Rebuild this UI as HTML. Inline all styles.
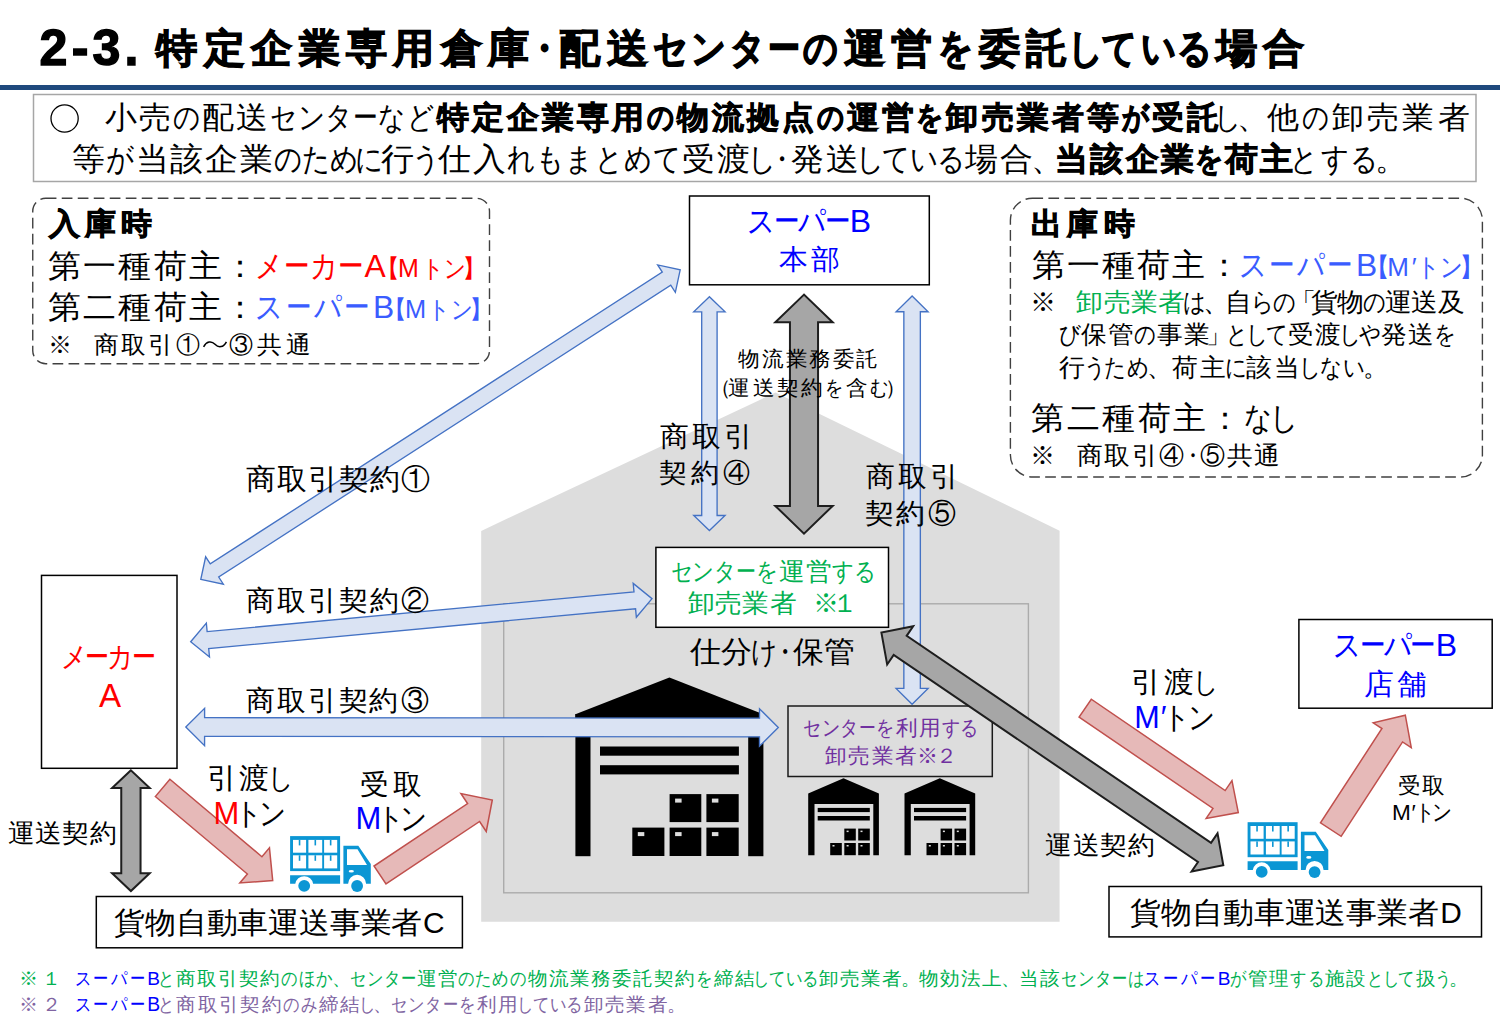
<!DOCTYPE html>
<html lang="ja"><head><meta charset="utf-8"><title>2-3</title>
<style>html,body{margin:0;padding:0;background:#fff;width:1500px;height:1015px;overflow:hidden}
svg{display:block;font-family:"Liberation Sans",sans-serif}</style></head>
<body><svg width="1500" height="1015" viewBox="0 0 1500 1015">
<rect x="0" y="85" width="1500" height="5" fill="#1f497d"/>
<rect x="33.5" y="94.5" width="1442.5" height="87" fill="none" stroke="#a6a6a6" stroke-width="1.5"/>
<rect x="32.75" y="198.3" width="456.75" height="165.4" rx="13" fill="none" stroke="#404040" stroke-width="1.4" stroke-dasharray="10.7 5.3"/>
<rect x="1010.4" y="198.2" width="472" height="278.8" rx="22" fill="none" stroke="#404040" stroke-width="1.4" stroke-dasharray="10.7 5.3"/>
<polygon points="481.2,530.9 775.5,392.5 1059.6,530.8 1059.6,921.8 481.2,921.8" fill="#dddddd" stroke="none" stroke-width="0" stroke-linejoin="miter" />
<rect x="503.7" y="603.8" width="524.7" height="289" fill="none" stroke="#ababab" stroke-width="1.4"/>
<rect x="689.5" y="196" width="239.8" height="88.8" fill="#fff" stroke="#000" stroke-width="1.5"/>
<rect x="41.5" y="575.4" width="135.5" height="192.9" fill="#fff" stroke="#000" stroke-width="1.5"/>
<rect x="655.9" y="547.4" width="232.6" height="79.9" fill="#fff" stroke="#000" stroke-width="1.5"/>
<rect x="788" y="706" width="204.3" height="70.5" fill="none" stroke="#1a1a1a" stroke-width="1.5"/>
<rect x="1298.9" y="619.5" width="193.3" height="88.7" fill="#fff" stroke="#000" stroke-width="1.5"/>
<rect x="96.3" y="896.5" width="366.1" height="51.3" fill="#fff" stroke="#000" stroke-width="1.5"/>
<rect x="1109" y="886.5" width="372.5" height="50.4" fill="#fff" stroke="#000" stroke-width="1.5"/>
<polygon points="575.4,722 575.4,714.3 669.4,677.5 763.4,714.3 763.4,722" fill="#000" stroke="none" stroke-width="0" stroke-linejoin="miter" />
<rect x="575.4" y="714" width="15.1" height="142.2" fill="#000" stroke="none" stroke-width="0"/>
<rect x="748.2" y="714" width="15.2" height="142.2" fill="#000" stroke="none" stroke-width="0"/>
<rect x="600" y="746.5" width="138.9" height="9.2" fill="#000" stroke="none" stroke-width="0"/>
<rect x="600" y="765.2" width="138.9" height="9.2" fill="#000" stroke="none" stroke-width="0"/>
<rect x="669.6" y="794.1" width="31.7" height="28" fill="#000" stroke="none" stroke-width="0"/>
<rect x="675.1" y="798.6" width="6.5" height="4" fill="#dddddd" stroke="none" stroke-width="0"/>
<rect x="706.4" y="794.1" width="32.3" height="28" fill="#000" stroke="none" stroke-width="0"/>
<rect x="711.9" y="798.6" width="6.5" height="4" fill="#dddddd" stroke="none" stroke-width="0"/>
<rect x="632.3" y="827.6" width="32.1" height="28.4" fill="#000" stroke="none" stroke-width="0"/>
<rect x="637.8" y="832.1" width="6.5" height="4" fill="#dddddd" stroke="none" stroke-width="0"/>
<rect x="669.6" y="827.6" width="31.7" height="28.4" fill="#000" stroke="none" stroke-width="0"/>
<rect x="675.1" y="832.1" width="6.5" height="4" fill="#dddddd" stroke="none" stroke-width="0"/>
<rect x="706.4" y="827.6" width="32.3" height="28.4" fill="#000" stroke="none" stroke-width="0"/>
<rect x="711.9" y="832.1" width="6.5" height="4" fill="#dddddd" stroke="none" stroke-width="0"/>
<polygon points="808.2,855.2 808.2,793.6 843.5,778.2 878.9,793.6 878.9,855.2 873.3,855.2 873.3,804.1 814.5,804.1 814.5,855.2" fill="#000" stroke="none" stroke-width="0" stroke-linejoin="miter" /><rect x="817.7" y="807.9" width="52.1" height="4.2" fill="#000" stroke="none" stroke-width="0"/><rect x="817.7" y="816" width="52.1" height="4.5" fill="#000" stroke="none" stroke-width="0"/><rect x="844.3" y="828.6" width="11.5" height="11.9" fill="#000" stroke="none" stroke-width="0"/><rect x="858.2" y="828.6" width="11.6" height="11.9" fill="#000" stroke="none" stroke-width="0"/><rect x="830.2" y="843" width="11.6" height="12.2" fill="#000" stroke="none" stroke-width="0"/><rect x="844.3" y="843" width="11.5" height="12.2" fill="#000" stroke="none" stroke-width="0"/><rect x="858.2" y="843" width="11.6" height="12.2" fill="#000" stroke="none" stroke-width="0"/><rect x="846.6" y="830.6" width="2" height="1.5" fill="#dddddd" stroke="none" stroke-width="0"/><rect x="860.5" y="830.6" width="2" height="1.5" fill="#dddddd" stroke="none" stroke-width="0"/><rect x="832.5" y="845" width="2" height="1.5" fill="#dddddd" stroke="none" stroke-width="0"/><rect x="846.6" y="845" width="2" height="1.5" fill="#dddddd" stroke="none" stroke-width="0"/><rect x="860.5" y="845" width="2" height="1.5" fill="#dddddd" stroke="none" stroke-width="0"/>
<polygon points="904.5,855.2 904.5,793.6 939.8,778.2 975.2,793.6 975.2,855.2 969.6,855.2 969.6,804.1 910.8,804.1 910.8,855.2" fill="#000" stroke="none" stroke-width="0" stroke-linejoin="miter" /><rect x="914" y="807.9" width="52.1" height="4.2" fill="#000" stroke="none" stroke-width="0"/><rect x="914" y="816" width="52.1" height="4.5" fill="#000" stroke="none" stroke-width="0"/><rect x="940.6" y="828.6" width="11.5" height="11.9" fill="#000" stroke="none" stroke-width="0"/><rect x="954.5" y="828.6" width="11.6" height="11.9" fill="#000" stroke="none" stroke-width="0"/><rect x="926.5" y="843" width="11.6" height="12.2" fill="#000" stroke="none" stroke-width="0"/><rect x="940.6" y="843" width="11.5" height="12.2" fill="#000" stroke="none" stroke-width="0"/><rect x="954.5" y="843" width="11.6" height="12.2" fill="#000" stroke="none" stroke-width="0"/><rect x="942.9" y="830.6" width="2" height="1.5" fill="#dddddd" stroke="none" stroke-width="0"/><rect x="956.8" y="830.6" width="2" height="1.5" fill="#dddddd" stroke="none" stroke-width="0"/><rect x="928.8" y="845" width="2" height="1.5" fill="#dddddd" stroke="none" stroke-width="0"/><rect x="942.9" y="845" width="2" height="1.5" fill="#dddddd" stroke="none" stroke-width="0"/><rect x="956.8" y="845" width="2" height="1.5" fill="#dddddd" stroke="none" stroke-width="0"/>
<g transform="translate(290.1,836.1)"><rect x="0" y="0" width="50" height="35" fill="#0b96d4"/><rect x="2.9" y="3.8" width="13.1" height="12.8" fill="#fff"/><rect x="8.65" y="3.8" width="1.6" height="5.5" fill="#0b96d4"/><rect x="2.9" y="19.2" width="13.1" height="13.1" fill="#fff"/><rect x="8.65" y="19.2" width="1.6" height="5.5" fill="#0b96d4"/><rect x="18.3" y="3.8" width="13.8" height="12.8" fill="#fff"/><rect x="24.4" y="3.8" width="1.6" height="5.5" fill="#0b96d4"/><rect x="18.3" y="19.2" width="13.8" height="13.1" fill="#fff"/><rect x="24.4" y="19.2" width="1.6" height="5.5" fill="#0b96d4"/><rect x="34" y="3.8" width="13.1" height="12.8" fill="#fff"/><rect x="39.75" y="3.8" width="1.6" height="5.5" fill="#0b96d4"/><rect x="34" y="19.2" width="13.1" height="13.1" fill="#fff"/><rect x="39.75" y="19.2" width="1.6" height="5.5" fill="#0b96d4"/><path d="M0,39.1 H50 V47.7 H23 A9,9 0 0 0 5.2,47.7 H0 Z" fill="#0b96d4"/><path d="M53.3,9.6 H68.2 L80.7,27.9 V47.7 H76 A9,9 0 0 0 58,47.7 H53.3 Z M56.9,13.1 V28.8 H76.9 L67.4,13.1 Z" fill="#0b96d4" fill-rule="evenodd"/><ellipse cx="61.2" cy="35.2" rx="2.6" ry="1.3" fill="#fff"/><circle cx="14.1" cy="49.7" r="5.9" fill="#0b96d4"/><circle cx="67" cy="49.9" r="5.9" fill="#0b96d4"/></g>
<g transform="translate(1247.6,822.2)"><rect x="0" y="0" width="50" height="35" fill="#0b96d4"/><rect x="2.9" y="3.8" width="13.1" height="12.8" fill="#fff"/><rect x="8.65" y="3.8" width="1.6" height="5.5" fill="#0b96d4"/><rect x="2.9" y="19.2" width="13.1" height="13.1" fill="#fff"/><rect x="8.65" y="19.2" width="1.6" height="5.5" fill="#0b96d4"/><rect x="18.3" y="3.8" width="13.8" height="12.8" fill="#fff"/><rect x="24.4" y="3.8" width="1.6" height="5.5" fill="#0b96d4"/><rect x="18.3" y="19.2" width="13.8" height="13.1" fill="#fff"/><rect x="24.4" y="19.2" width="1.6" height="5.5" fill="#0b96d4"/><rect x="34" y="3.8" width="13.1" height="12.8" fill="#fff"/><rect x="39.75" y="3.8" width="1.6" height="5.5" fill="#0b96d4"/><rect x="34" y="19.2" width="13.1" height="13.1" fill="#fff"/><rect x="39.75" y="19.2" width="1.6" height="5.5" fill="#0b96d4"/><path d="M0,39.1 H50 V47.7 H23 A9,9 0 0 0 5.2,47.7 H0 Z" fill="#0b96d4"/><path d="M53.3,9.6 H68.2 L80.7,27.9 V47.7 H76 A9,9 0 0 0 58,47.7 H53.3 Z M56.9,13.1 V28.8 H76.9 L67.4,13.1 Z" fill="#0b96d4" fill-rule="evenodd"/><ellipse cx="61.2" cy="35.2" rx="2.6" ry="1.3" fill="#fff"/><circle cx="14.1" cy="49.7" r="5.9" fill="#0b96d4"/><circle cx="67" cy="49.9" r="5.9" fill="#0b96d4"/></g>
<polygon points="200.8,579.3 223.34,584.15 218.72,577.01 670.74,285.19 675.35,292.34 680.2,269.8 657.66,264.95 662.28,272.09 210.26,563.91 205.65,556.76" fill="#dae3f3" stroke="#4472c4" stroke-width="1.35" stroke-linejoin="miter" />
<polygon points="190.7,641.7 209.5,657.02 208.71,648.56 635.56,608.77 636.35,617.23 652,598.7 633.2,583.38 633.99,591.84 207.14,631.63 206.35,623.17" fill="#dae3f3" stroke="#4472c4" stroke-width="1.35" stroke-linejoin="miter" />
<polygon points="185.8,727 204.58,745.72 204.59,736.37 759.49,736.83 759.48,746.18 778.3,727.5 759.52,708.78 759.51,718.13 204.61,717.67 204.62,708.32" fill="#dae3f3" stroke="#4472c4" stroke-width="1.35" stroke-linejoin="miter" />
<polygon points="709.4,296.7 693.75,311.8 701.7,311.8 701.7,515.5 693.75,515.5 709.4,530.6 725.05,515.5 717.1,515.5 717.1,311.8 725.05,311.8" fill="#dae3f3" stroke="#4472c4" stroke-width="1.35" stroke-linejoin="miter" />
<polygon points="912.1,295.9 896.1,311.7 903.85,311.7 903.85,688.4 896.1,688.4 912.1,704.2 928.1,688.4 920.35,688.4 920.35,311.7 928.1,311.7" fill="#dae3f3" stroke="#4472c4" stroke-width="1.35" stroke-linejoin="miter" />
<polygon points="804,294.6 775.3,322.3 789.95,322.3 789.95,505.9 775.3,505.9 804,533.6 832.7,505.9 818.05,505.9 818.05,322.3 832.7,322.3" fill="#a6a6a6" stroke="#1e1e1e" stroke-width="2" stroke-linejoin="miter" />
<polygon points="881.4,632.6 887.17,664.47 893.67,654.92 1198.03,861.98 1191.54,871.53 1223.3,865.2 1217.53,833.33 1211.03,842.88 906.67,635.82 913.16,626.27" fill="#a6a6a6" stroke="#1e1e1e" stroke-width="2" stroke-linejoin="miter" />
<polygon points="130.9,770.3 112.1,788.1 121.25,788.1 121.25,873.2 112.1,873.2 130.9,891 149.7,873.2 140.55,873.2 140.55,788.1 149.7,788.1" fill="#a6a6a6" stroke="#1e1e1e" stroke-width="2" stroke-linejoin="miter" />
<polygon points="155.32,796.54 247.37,874.04 239.83,882.99 272.7,880.6 269.46,847.81 261.92,856.76 169.88,779.26" fill="#e6b9b8" stroke="#c0504d" stroke-width="1.5" stroke-linejoin="miter" />
<polygon points="386,883.98 479.59,821.48 486.25,831.46 492.3,800 460.93,793.54 467.59,803.51 374,866.02" fill="#e6b9b8" stroke="#c0504d" stroke-width="1.5" stroke-linejoin="miter" />
<polygon points="1079.11,717.07 1212.97,808.39 1206.15,818.39 1238.3,812.6 1231.96,780.55 1225.14,790.55 1091.29,699.23" fill="#e6b9b8" stroke="#c0504d" stroke-width="1.5" stroke-linejoin="miter" />
<polygon points="1341.11,836.31 1402.56,741.94 1411.28,747.62 1405.3,715.2 1373.24,722.84 1381.95,728.52 1320.49,822.89" fill="#e6b9b8" stroke="#c0504d" stroke-width="1.5" stroke-linejoin="miter" />
<circle cx="64.6" cy="118.5" r="13.6" fill="none" stroke="#000" stroke-width="1.3"/>
<text x="39.5 71.64 92.59 124.47" y="65.1" font-size="50.14" fill="#000" font-weight="bold" stroke="#000" stroke-width="1.4">2-3.</text>
<text x="151.87 197.88 243.88 289.89 335.89 381.89 427.9 473.9 542.91 588.91 819.39 865.4 950.05 996.05 1180.53 1226.53" y="61.55" font-size="40.29" fill="#000" font-weight="bold" stroke="#000" stroke-width="1.1" transform="scale(1.03,1)">特定企業専用倉庫配送運営委託場合</text>
<text x="612.89 759.6 803.95 848.3 934.26 1090.73 1241.43 1281.92 1326.28 1368.7" y="61.55" font-size="40.29" fill="#000" font-weight="bold" stroke="#000" stroke-width="1.31" transform="scale(0.86,1)">・センタのをしている</text>
<text x="960.07" y="61.55" font-size="40.29" fill="#000" font-weight="bold" stroke="#000" stroke-width="1.41" transform="scale(0.8,1)">ー</text>
<text x="102.31 135.43 196.36 229.48" y="128.4" font-size="30.7" fill="#000" transform="scale(1.03,1)">小売配送</text>
<text x="201.42 314.05 345.98 377.91 439.78 473.1" y="128.4" font-size="30.7" fill="#000" transform="scale(0.86,1)">のセンタなど</text>
<text x="440.99" y="128.4" font-size="30.7" fill="#000" transform="scale(0.8,1)">ー</text>
<text x="423.91 458 492.09 526.18 560.27 594.36 657.09 691.18 725.27 759.36 822.08 856.17 918.89 952.98 987.07 1021.16 1055.25 1117.98 1152.07" y="128.4" font-size="30.7" fill="#000" font-weight="bold" stroke="#000" stroke-width="0.83" transform="scale(1.03,1)">特定企業専用物流拠点運営卸売業者等受託</text>
<text x="752.14 949.75 1065.7 1304.14" y="128.4" font-size="30.7" fill="#000" font-weight="bold" stroke="#000" stroke-width="1" transform="scale(0.86,1)">ののをが</text>
<text x="1411.85 1513.72" y="128.4" font-size="30.7" fill="#000" transform="scale(0.86,1)">しの</text>
<text x="1236.63" y="128.4" font-size="30.7" fill="#000">、</text>
<text x="1230.11 1293.09 1327.32 1361.54 1395.77" y="128.4" font-size="30.7" fill="#000" transform="scale(1.03,1)">他卸売業者</text>
<text x="69.64 131.65 165.36 199.06 232.77 370.29 425.22 458.93 662.51 696.21 768 801.71 936.87 970.57" y="170.04" font-size="31.54" fill="#000" transform="scale(1.03,1)">等当該企業行仕入受渡発送場合</text>
<text x="123.34 318.72 351.22 383.71 413.38 479.18 589.59 623.5 657.41 691.31 725.22 759.13 869.54 892.66 995.89 1025.56 1058.06 1089.14" y="170.04" font-size="31.54" fill="#000" transform="scale(0.86,1)">がのためにうれもまとめてし・している</text>
<text x="1030.54" y="170.04" font-size="31.54" fill="#000">、</text>
<text x="1024.66 1058.7 1092.74 1126.79 1189.42 1223.46" y="170.04" font-size="31.54" fill="#000" font-weight="bold" stroke="#000" stroke-width="0.86" transform="scale(1.03,1)">当該企業荷主</text>
<text x="1389.83" y="170.04" font-size="31.54" fill="#000" font-weight="bold" stroke="#000" stroke-width="1.03" transform="scale(0.86,1)">を</text>
<text x="1500.45 1535.56 1569.21" y="170.04" font-size="31.54" fill="#000" transform="scale(0.86,1)">とする</text>
<text x="1374.91" y="170.04" font-size="31.54" fill="#000">。</text>
<text x="47.87 82.61 117.35" y="233.79" font-size="29.85" fill="#000" font-weight="bold" stroke="#000" stroke-width="0.81" transform="scale(1.03,1)">入庫時</text>
<text x="46.62 80.79 114.97 149.14 183.31" y="276.56" font-size="31.81" fill="#000" transform="scale(1.03,1)">第一種荷主</text>
<text x="224.49" y="276.56" font-size="31.81" fill="#000">：</text>
<text x="297.05 359.97" y="276.56" font-size="31.81" fill="#ff0000" transform="scale(0.86,1)">メカ</text>
<text x="354.68 422.32" y="276.56" font-size="31.81" fill="#ff0000" transform="scale(0.8,1)">ーー</text>
<text x="364.61" y="276.56" font-size="31.81" fill="#ff0000">A</text>
<text x="375.25 398.12 461.75" y="277.05" font-size="25" fill="#ff0000">【M】</text>
<text x="490.19 516.31" y="277.05" font-size="25" fill="#ff0000" transform="scale(0.86,1)">トン</text>
<text x="46.62 80.79 114.97 149.14 183.31" y="318.26" font-size="31.81" fill="#000" transform="scale(1.03,1)">第二種荷主</text>
<text x="224.49" y="318.26" font-size="31.81" fill="#000">：</text>
<text x="296.64 364.82" y="318.26" font-size="31.81" fill="#3a5cff" transform="scale(0.86,1)">スパ</text>
<text x="357.07 430.36" y="318.26" font-size="31.81" fill="#3a5cff" transform="scale(0.8,1)">ーー</text>
<text x="373.1" y="318.26" font-size="31.81" fill="#3a5cff">B</text>
<text x="382.09 405.02 468.7" y="318.4" font-size="25.42" fill="#3a5cff">【M】</text>
<text x="498.24 524.39" y="318.4" font-size="25.42" fill="#3a5cff" transform="scale(0.86,1)">トン</text>
<text x="47.51" y="352.7" font-size="24.22" fill="#000">※</text>
<text x="91.36 117.72 144.07" y="352.7" font-size="24.22" fill="#000" transform="scale(1.03,1)">商取引</text>
<text x="175.9" y="352.7" font-size="24.22" fill="#000">①</text>
<text x="229.27" y="352.7" font-size="24.22" fill="#000">③</text>
<text x="250 277.76" y="352.7" font-size="24.22" fill="#000" transform="scale(1.03,1)">共通</text>
<path d="M203.6,346.8 C206.5,341.2 211.5,340.6 215,344.3 C218.5,348 223.5,347.6 226.4,341.8" fill="none" stroke="#000" stroke-width="1.5"/>
<text x="1001.11 1036.26 1071.4" y="233.98" font-size="30.17" fill="#000" font-weight="bold" stroke="#000" stroke-width="0.82" transform="scale(1.03,1)">出庫時</text>
<text x="1001.67 1035.84 1070.01 1104.19 1138.36" y="276.26" font-size="31.81" fill="#000" transform="scale(1.03,1)">第一種荷主</text>
<text x="1208.19" y="276.26" font-size="31.81" fill="#000">：</text>
<text x="1440.48 1508.12" y="276.26" font-size="31.81" fill="#3a5cff" transform="scale(0.86,1)">スパ</text>
<text x="1586.41 1659.12" y="276.26" font-size="31.81" fill="#3a5cff" transform="scale(0.8,1)">ーー</text>
<text x="1355.9" y="276.26" font-size="31.81" fill="#3a5cff">B</text>
<text x="1363.59 1387.19 1411.71 1458.66" y="276.21" font-size="26.04" fill="#3a5cff">【M′】</text>
<text x="1647.98 1674.9" y="276.21" font-size="26.04" fill="#3a5cff" transform="scale(0.86,1)">トン</text>
<text x="1030.02" y="310.87" font-size="25.57" fill="#000">※</text>
<text x="1045.02 1071.45 1097.87 1124.29" y="310.87" font-size="25.57" fill="#00b050" transform="scale(1.03,1)">卸売業者</text>
<text x="1376.12 1454.92 1480.48 1585.15" y="310.87" font-size="25.57" fill="#000" transform="scale(0.86,1)">はらのの</text>
<text x="1202.69 1290.48" y="310.87" font-size="25.57" fill="#000">、「</text>
<text x="1189.52 1272.85 1298.25 1345 1370.4 1395.81" y="310.87" font-size="25.57" fill="#000" transform="scale(1.03,1)">自貨物運送及</text>
<text x="1230.85 1319.15 1426.1 1448.95 1471.8 1556.84 1579.69 1667.99" y="343.33" font-size="25.23" fill="#000" transform="scale(0.86,1)">びのとしてしやを</text>
<text x="1049.71 1075.67 1123.44 1149.4 1250.9 1276.85 1340.97 1366.93" y="343.33" font-size="25.23" fill="#000" transform="scale(1.03,1)">保管事業受渡発送</text>
<text x="1205.65" y="343.33" font-size="25.23" fill="#000">」</text>
<text x="1028.3 1137.63 1165.03 1209.7 1237.1" y="376.19" font-size="24.69" fill="#000" transform="scale(1.03,1)">行荷主該当</text>
<text x="1260.51 1283.48 1309.9 1424.27 1510.58 1534.7 1561.12" y="376.19" font-size="24.69" fill="#000" transform="scale(0.86,1)">うためにしない</text>
<text x="1147.43 1362.5" y="376.19" font-size="24.69" fill="#000">、。</text>
<text x="1000.99 1035.5 1070.01 1104.51 1139.02" y="429.19" font-size="31.6" fill="#000" transform="scale(1.03,1)">第二種荷主</text>
<text x="1209.21" y="429.19" font-size="31.6" fill="#000">：</text>
<text x="1446.33 1476.71" y="429.19" font-size="31.6" fill="#000" transform="scale(0.86,1)">なし</text>
<text x="1030.45" y="463.65" font-size="24.64" fill="#000">※</text>
<text x="1045.82 1072.29 1098.76 1191.4 1217.86" y="463.65" font-size="24.64" fill="#000" transform="scale(1.03,1)">商取引共通</text>
<text x="1159.35 1200.24" y="463.65" font-size="24.64" fill="#000">④⑤</text>
<text x="1373.86" y="463.65" font-size="24.64" fill="#000" transform="scale(0.86,1)">・</text>
<text x="868.72 927.78" y="232.13" font-size="32" fill="#0000ff" transform="scale(0.86,1)">スパ</text>
<text x="967.16 1030.66" y="232.13" font-size="32" fill="#0000ff" transform="scale(0.8,1)">ーー</text>
<text x="849.78" y="232.13" font-size="32" fill="#0000ff">B</text>
<text x="756.22 787.69" y="269.19" font-size="28.07" fill="#0000ff" transform="scale(1.03,1)">本部</text>
<text x="716.89 739.77 762.65 785.53 808.41 831.29" y="365.54" font-size="20.82" fill="#000" transform="scale(1.03,1)">物流業務委託</text>
<text x="710.4 885.12" y="394.53" font-size="21.38" fill="#000">（）</text>
<text x="707.12 730.74 754.37 777.99 821.46" y="394.53" font-size="21.38" fill="#000" transform="scale(1.03,1)">運送契約含</text>
<text x="959.71 1011.77" y="394.53" font-size="21.38" fill="#000" transform="scale(0.86,1)">をむ</text>
<text x="640.7 671.84 702.98" y="445.55" font-size="27.94" fill="#000" transform="scale(1.03,1)">商取引</text>
<text x="639.4 670.47" y="482.39" font-size="27.03" fill="#000" transform="scale(1.03,1)">契約</text>
<text x="722.98" y="482.39" font-size="27.03" fill="#000">④</text>
<text x="840.9 872.04 903.17" y="485.95" font-size="27.94" fill="#000" transform="scale(1.03,1)">商取引</text>
<text x="839.55 869.98" y="523.02" font-size="28.3" fill="#000" transform="scale(1.03,1)">契約</text>
<text x="927.85" y="523.02" font-size="28.3" fill="#000">⑤</text>
<text x="238.56 268.68 298.8 328.92 359.04" y="488.6" font-size="28.5" fill="#000" transform="scale(1.03,1)">商取引契約</text>
<text x="401.26" y="488.6" font-size="28.5" fill="#000">①</text>
<text x="238.75 268.76 298.76 328.77 358.77" y="609.82" font-size="28.29" fill="#000" transform="scale(1.03,1)">商取引契約</text>
<text x="400.86" y="609.82" font-size="28.29" fill="#000">②</text>
<text x="238.75 268.74 298.72 328.7 358.69" y="710.31" font-size="28.39" fill="#000" transform="scale(1.03,1)">商取引契約</text>
<text x="400.76" y="710.31" font-size="28.39" fill="#000">③</text>
<text x="779.91 805.1 830.29 879.1 967.96 993.15" y="580.13" font-size="24.71" fill="#00b050" transform="scale(0.86,1)">センタをする</text>
<text x="919.99" y="580.13" font-size="24.71" fill="#00b050" transform="scale(0.8,1)">ー</text>
<text x="756.21 782.33" y="580.13" font-size="24.71" fill="#00b050" transform="scale(1.03,1)">運営</text>
<text x="667.93 694.33 720.73 747.13" y="612.31" font-size="25.74" fill="#00b050" transform="scale(1.03,1)">卸売業者</text>
<text x="813.2 832.35" y="612.31" font-size="25.74" fill="#00b050">※１</text>
<text x="669.71 699.73 769.99 800.02" y="662.11" font-size="29.93" fill="#000" transform="scale(1.03,1)">仕分保管</text>
<text x="873.8 898.19" y="662.11" font-size="29.93" fill="#000" transform="scale(0.86,1)">け・</text>
<text x="934.23 955.74 977.26 1018.95 1094.86 1116.37" y="734.98" font-size="20.61" fill="#7030a0" transform="scale(0.86,1)">センタをする</text>
<text x="1073.96" y="734.98" font-size="20.61" fill="#7030a0" transform="scale(0.8,1)">ー</text>
<text x="869.78 892.09" y="734.98" font-size="20.61" fill="#7030a0" transform="scale(1.03,1)">利用</text>
<text x="800.94 823.73 846.52 869.3" y="763.1" font-size="20.85" fill="#7030a0" transform="scale(1.03,1)">卸売業者</text>
<text x="916.88 935.97" y="763.1" font-size="20.85" fill="#7030a0">※２</text>
<text x="70.37 124.7" y="667.25" font-size="30" fill="#ff0000" transform="scale(0.86,1)">メカ</text>
<text x="106.3 164.7" y="667.25" font-size="30" fill="#ff0000" transform="scale(0.8,1)">ーー</text>
<text x="99" y="706.9" font-size="33.19" fill="#ff0000">A</text>
<text x="200.77 232.49" y="787.54" font-size="29.17" fill="#000" transform="scale(1.03,1)">引渡</text>
<text x="312.01" y="787.54" font-size="29.17" fill="#000" transform="scale(0.86,1)">し</text>
<text x="213.42" y="824.38" font-size="30.94" fill="#ff0000">M</text>
<text x="273.09 300.72" y="824.38" font-size="30.94" fill="#000" transform="scale(0.86,1)">トン</text>
<text x="349.45 381.15" y="793.84" font-size="28.33" fill="#000" transform="scale(1.03,1)">受取</text>
<text x="355.62" y="829.38" font-size="30.94" fill="#0000ff">M</text>
<text x="438.09 465.26" y="829.38" font-size="30.94" fill="#000" transform="scale(0.86,1)">トン</text>
<text x="7.58 34.11 60.64 87.17" y="842.25" font-size="25.81" fill="#000" transform="scale(1.03,1)">運送契約</text>
<text x="111.04 140.93 170.81 200.7 230.58 260.47 290.35 320.24 350.12 380.01" y="933.31" font-size="29.89" fill="#000" transform="scale(1.03,1)">貨物自動車運送事業者</text>
<text x="423.07" y="933.31" font-size="29.89" fill="#000">C</text>
<text x="1098.32 1129.97" y="692.41" font-size="29.49" fill="#000" transform="scale(1.03,1)">引渡</text>
<text x="1386.86" y="692.41" font-size="29.49" fill="#000" transform="scale(0.86,1)">し</text>
<text x="1134.35 1160.8" y="728.12" font-size="30.59" fill="#0000ff">M′</text>
<text x="1352.29 1381.28" y="728.12" font-size="30.59" fill="#000" transform="scale(0.86,1)">トン</text>
<text x="1357.58 1380.97" y="793.14" font-size="21.64" fill="#000" transform="scale(1.03,1)">受取</text>
<text x="1392.09 1411.52" y="819.66" font-size="22.59" fill="#000">M′</text>
<text x="1644.98 1665.27" y="819.66" font-size="22.59" fill="#000" transform="scale(0.86,1)">トン</text>
<text x="1014.76 1041.58 1068.4 1095.22" y="854.45" font-size="25.81" fill="#000" transform="scale(1.03,1)">運送契約</text>
<text x="1550.11 1609.12" y="655.73" font-size="32" fill="#0000ff" transform="scale(0.86,1)">スパ</text>
<text x="1699.63 1763.06" y="655.73" font-size="32" fill="#0000ff" transform="scale(0.8,1)">ーー</text>
<text x="1435.68" y="655.73" font-size="32" fill="#0000ff">B</text>
<text x="1324.2 1356.64" y="693.87" font-size="28.57" fill="#0000ff" transform="scale(1.03,1)">店舗</text>
<text x="1096.87 1126.92 1156.97 1187.03 1217.08 1247.13 1277.18 1307.23 1337.28 1367.34" y="922.81" font-size="29.89" fill="#000" transform="scale(1.03,1)">貨物自動車運送事業者</text>
<text x="1440.17" y="922.81" font-size="29.89" fill="#000">D</text>
<text x="19.33 41.87" y="985.32" font-size="19.1" fill="#00b050">※１</text>
<text x="86.84 128.86" y="985.32" font-size="19.1" fill="#0000ff" transform="scale(0.86,1)">スパ</text>
<text x="116.87 162.04" y="985.32" font-size="19.1" fill="#0000ff" transform="scale(0.8,1)">ーー</text>
<text x="147.35" y="985.32" font-size="19.1" fill="#0000ff">B</text>
<text x="183.73 326.58 347.13 367.68 406.57 426.26 445.96 533.04 552.73 572.42 592.97 809.21 876.11 894.09 913.78 932.61 1233.61 1253.3 1272.99 1311.15" y="985.32" font-size="19.1" fill="#00b050" transform="scale(0.86,1)">とのほかセンタのためのをしているセンタは</text>
<text x="170.78 191.2 211.63 232.05 252.48 404.43 424.85 512.47 532.9 553.32 573.74 594.17 614.59 635.02 655.44 693.02 713.45 795.35 815.77 836.19 856.62 892.36 912.78 933.21 953.63 989.37 1009.8" y="985.32" font-size="19.1" fill="#00b050" transform="scale(1.03,1)">商取引契約運営物流業務委託契約締結卸売業者物効法上当該</text>
<text x="331.76 901.01 1000.93" y="985.32" font-size="19.1" fill="#00b050">、。、</text>
<text x="500.83 1389.9" y="985.32" font-size="19.1" fill="#00b050" transform="scale(0.8,1)">ーー</text>
<text x="1330.22 1372.83" y="985.32" font-size="19.1" fill="#0000ff" transform="scale(0.86,1)">スパ</text>
<text x="1453.81 1499.62" y="985.32" font-size="19.1" fill="#0000ff" transform="scale(0.8,1)">ーー</text>
<text x="1217.65" y="985.32" font-size="19.1" fill="#0000ff">B</text>
<text x="1430.47 1500.56 1520.43 1589.65 1607.79 1625.92 1668.74" y="985.32" font-size="19.1" fill="#00b050" transform="scale(0.86,1)">がするとしてう</text>
<text x="1211.92 1232.52 1286.3 1306.91 1375.11" y="985.32" font-size="19.1" fill="#00b050" transform="scale(1.03,1)">管理施設扱</text>
<text x="1448.59" y="985.32" font-size="19.1" fill="#00b050">。</text>
<text x="19.3 41.73" y="1010.89" font-size="19.29" fill="#8064a2">※２</text>
<text x="86.83 128.78" y="1010.89" font-size="19.29" fill="#0000ff" transform="scale(0.86,1)">スパ</text>
<text x="116.82 161.91" y="1010.89" font-size="19.29" fill="#0000ff" transform="scale(0.8,1)">ーー</text>
<text x="147.23" y="1010.89" font-size="19.29" fill="#0000ff">B</text>
<text x="183.7 328.76 349.63 417.57 454.46 474.45 494.45 533.2 601.14 619.4 639.39 658.52" y="1010.89" font-size="19.29" fill="#8064a2" transform="scale(0.86,1)">とのみしセンタをしている</text>
<text x="171.03 191.77 212.51 233.25 253.99 309.58 330.32 462.85 483.59 566.76 587.5 608.24 628.98" y="1010.89" font-size="19.29" fill="#8064a2" transform="scale(1.03,1)">商取引契約締結利用卸売業者</text>
<text x="372.67 666.83" y="1010.89" font-size="19.29" fill="#8064a2">、。</text>
<text x="553.29" y="1010.89" font-size="19.29" fill="#8064a2" transform="scale(0.8,1)">ー</text>
</svg></body></html>
